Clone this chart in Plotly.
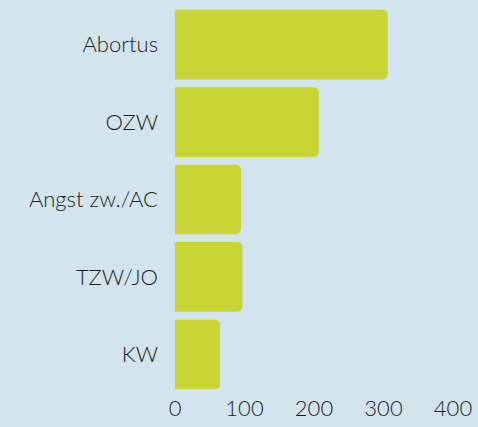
import plotly.graph_objects as go

categories = ["Abortus", "OZW", "Angst zw./AC", "TZW/JO", "KW"]
values = [306, 207, 95, 97, 65]
x_ticks = [0, 100, 200, 300, 400]

fig = go.Figure(go.Bar(
    x=values,
    y=categories,
    orientation="h",
    marker=dict(color="#c9d534", cornerradius=5, line=dict(width=0)),
    hoverinfo="x+y",
))

fig.update_layout(
    width=478, height=427,
    margin=dict(l=175, r=25, t=6, b=31),
    paper_bgcolor="#d3e4ef",
    plot_bgcolor="#d3e4ef",
    bargap=0.1,
    font=dict(family="Lato, Noto Sans, sans-serif", size=22, weight=300, color="#1e1e1e"),
    showlegend=False,
)
fig.update_xaxes(
    range=[0, 400], tickvals=x_ticks, showgrid=False, zeroline=False,
    showline=False, ticks="", fixedrange=True,
)
fig.update_yaxes(
    autorange="reversed", showgrid=False, zeroline=False, showline=False,
    ticks="", ticklabelstandoff=16, fixedrange=True,
)

fig.write_html(
    "out.html",
    config={"displayModeBar": False},
    post_script="document.body.style.margin='0';document.body.style.background='#d3e4ef';",
)
